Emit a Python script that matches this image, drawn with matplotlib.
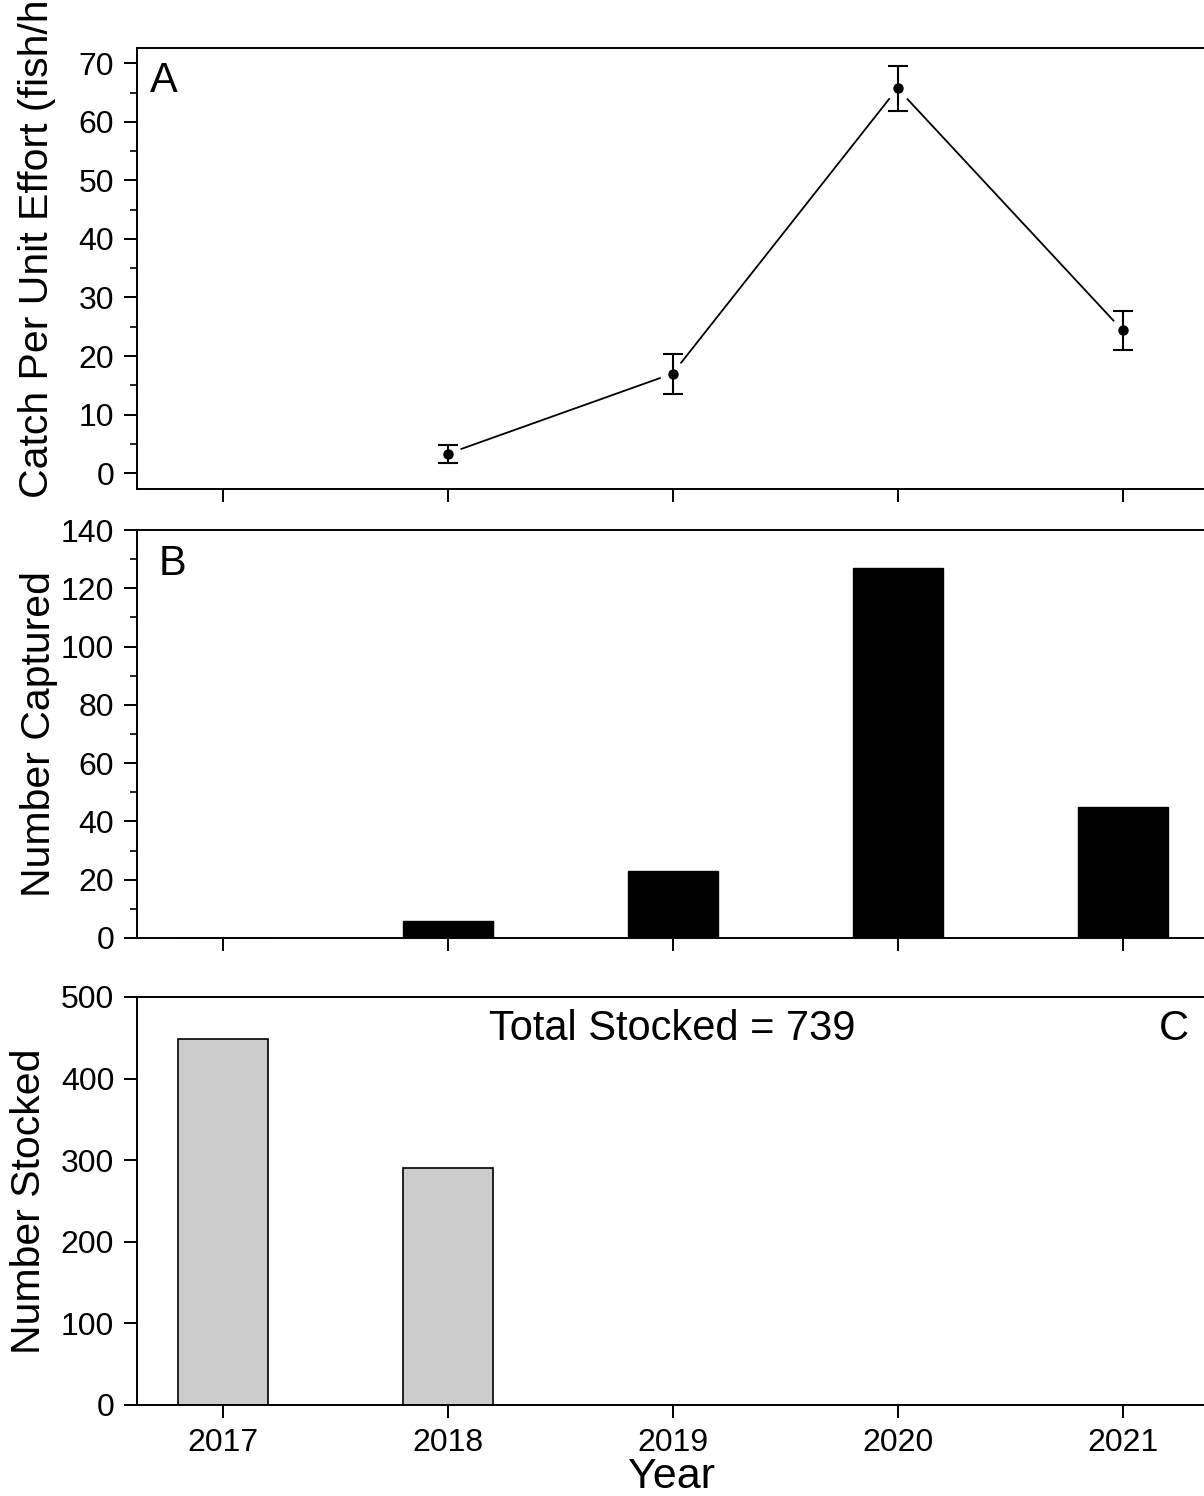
import numpy as np
import matplotlib
matplotlib.use("Agg")
import matplotlib.pyplot as plt
from matplotlib.ticker import MultipleLocator

plt.rcParams['font.family'] = ['Liberation Sans', 'DejaVu Sans']

# --- data ---
years = [2017, 2018, 2019, 2020, 2021]
cpue_years = [2018, 2019, 2020, 2021]
cpue = [3.3, 17.0, 65.7, 24.4]
cpue_err = [1.5, 3.4, 3.9, 3.3]
captured = [0, 6, 23, 127, 45]
stocked = [448, 291, 0, 0, 0]
total_stocked = 739

W, H = 1204, 1496
fig = plt.figure(figsize=(W / 100, H / 100), dpi=100)

def fx(px):
    return px / W

def fy(px):
    return 1 - px / H

x_lo, x_hi = 2016.62, 2021.44
left = fx(137)
width = (x_hi - x_lo) * 225 / W

ax_a = fig.add_axes([left, fy(489), width, (489 - 48) / H])
ax_b = fig.add_axes([left, fy(938), width, (938 - 530) / H])
ax_c = fig.add_axes([left, fy(1405), width, (1405 - 997) / H])

tick_fs = 23
lab_fs = 29.5
txt_fs = 30

for ax in (ax_a, ax_b, ax_c):
    ax.set_xlim(x_lo, x_hi)
    ax.set_xticks(years)
    for s in ax.spines.values():
        s.set_linewidth(1.4)
    ax.tick_params(which='major', direction='out', length=9.4, width=1.4,
                   pad=7, labelsize=tick_fs, top=False, right=False)
    ax.tick_params(which='minor', direction='out', length=5, width=1.2,
                   top=False, right=False, bottom=False)
    ax.yaxis.label.set_va('center')

# --- panel A: CPUE ---
ax_a.plot(cpue_years, cpue, color='black', lw=1.3, zorder=1)
ax_a.plot(cpue_years, cpue, 'o', ms=19, color='white', mec='none', zorder=2)
ax_a.errorbar(cpue_years, cpue, yerr=cpue_err, fmt='o', color='black',
              ms=6.5, elinewidth=1.5, capsize=7.5, capthick=1.5, zorder=3)
ax_a.set_ylim(-2.7, 72.6)
ax_a.yaxis.set_major_locator(MultipleLocator(10))
ax_a.yaxis.set_minor_locator(MultipleLocator(5))
ax_a.tick_params(axis='x', labelbottom=False)
ax_a.set_ylabel('Catch Per Unit Effort (fish/h)', fontsize=lab_fs)
ax_a.yaxis.set_label_coords(-0.092, 0.56)
ax_a.text(0.012, 0.97, 'A', transform=ax_a.transAxes, fontsize=txt_fs,
          va='top', ha='left')

# --- panel B: number captured ---
ax_b.bar(years, captured, width=0.4, color='black', edgecolor='black')
ax_b.set_ylim(0, 140)
ax_b.yaxis.set_major_locator(MultipleLocator(20))
ax_b.yaxis.set_minor_locator(MultipleLocator(10))
ax_b.tick_params(axis='x', labelbottom=False)
ax_b.set_ylabel('Number Captured', fontsize=lab_fs)
ax_b.yaxis.set_label_coords(-0.09, 0.5)
ax_b.text(0.02, 0.965, 'B', transform=ax_b.transAxes, fontsize=txt_fs,
          va='top', ha='left')

# --- panel C: number stocked ---
ax_c.bar(years, stocked, width=0.4, color='#cccccc', edgecolor='black',
         linewidth=1.2)
ax_c.set_ylim(0, 500)
ax_c.yaxis.set_major_locator(MultipleLocator(100))
ax_c.set_ylabel('Number Stocked', fontsize=lab_fs)
ax_c.yaxis.set_label_coords(-0.1, 0.5)
ax_c.set_xlabel('Year', fontsize=31, va='center')
ax_c.xaxis.set_label_coords(0.493, -0.176)
ax_c.text(2019, 461, f'Total Stocked = {total_stocked}', fontsize=txt_fs,
          ha='center', va='center')
ax_c.text(2021.23, 461, 'C', fontsize=txt_fs, ha='center', va='center')

fig.savefig('out.png', dpi=100)
